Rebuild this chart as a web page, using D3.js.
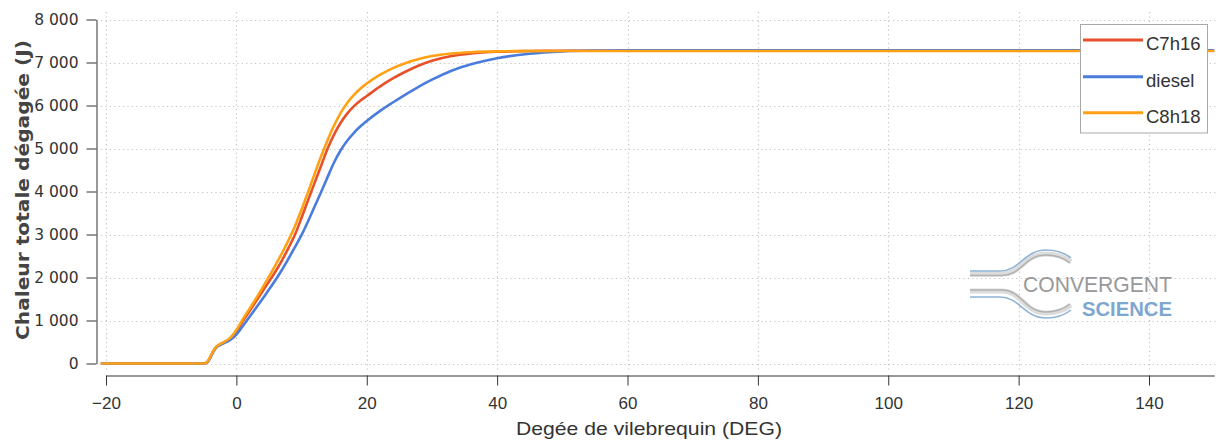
<!DOCTYPE html>
<html><head><meta charset="utf-8">
<script src="https://cdn.jsdelivr.net/npm/d3@7/dist/d3.min.js"></script>
<style>html,body{margin:0;padding:0;background:#fff;}svg{display:block;}</style>
</head><body>
<svg id="c" width="1216" height="441"></svg>
<script>
// ---- data ----
const crankAngle = [-20.8,-5,-4.5,-4,-3.5,-3,-2.5,-2,-1,0,1,2,3,4,5,6,7,8,9,10,11,12,13,14,15,16,17,18,19,20,22,24,26,28,30,33,36,40,45,50,55,60,80,100,120,150];
const c7h16  = [0,0,30,150,300,395,445,480,570,740,985,1215,1445,1675,1905,2140,2400,2690,3000,3390,3800,4200,4600,5000,5330,5600,5810,5980,6110,6220,6440,6630,6790,6930,7040,7150,7210,7250,7266,7273,7275,7275,7275,7275,7275,7275];
const diesel = [0,0,20,130,280,380,430,465,540,670,870,1080,1290,1500,1720,1940,2180,2440,2710,2990,3310,3650,3990,4340,4680,4960,5180,5360,5510,5640,5870,6070,6260,6440,6600,6810,6960,7100,7205,7258,7278,7283,7285,7285,7285,7285];
const c8h18  = [0,0,30,150,300,400,450,490,590,780,1030,1270,1510,1760,2020,2290,2570,2870,3200,3580,3990,4410,4820,5200,5540,5830,6060,6240,6390,6510,6710,6870,6990,7080,7150,7210,7240,7258,7264,7266,7266,7266,7266,7266,7266,7266];
const seriesNames = ["C7h16","diesel","C8h18"];
const seriesColors = ["#e6512b","#4a7ddb","#ffa114"];
const xMajorTicks = [-20,0,20,40,60,80,100,120,140];
const yMajorTicks = [0,1000,2000,3000,4000,5000,6000,7000,8000];
const xTitle = "Degée de vilebrequin (DEG)";
const yTitle = "Chaleur totale dégagée (J)";

const svg = d3.select("#c");
const x = d3.scaleLinear().domain([-20,150]).range([106,1214.2]);
const y = d3.scaleLinear().domain([0,8000]).range([363.5,19.5]);
const fmtY = v => d3.format(",")(v).replace(/,/g," ");

// grid
const grid = svg.append("g").attr("stroke","#c4c4c4").attr("stroke-width",1.2).attr("stroke-dasharray","1.2,3.2");
grid.selectAll(".hg").data(yMajorTicks).join("line")
  .attr("x1",101).attr("x2",1216).attr("y1",d=>Math.round(y(d))+0.5).attr("y2",d=>Math.round(y(d))+0.5);
grid.selectAll(".vg").data(xMajorTicks).join("line")
  .attr("y1",12).attr("y2",371).attr("x1",d=>Math.round(x(d))+0.5).attr("x2",d=>Math.round(x(d))+0.5);

// logo watermark
const logo = svg.append("g").attr("fill","none");
logo.append("path").attr("d","M970,274 L1002,274 C1022,274 1024,254 1046,254 C1058,254 1066,258 1071,262").attr("stroke","#dcdcdc").attr("stroke-width",5);
logo.append("path").attr("d","M970,271 L1000,271 C1020,271 1024,250 1046,250 C1058,250 1066,254 1071,258").attr("stroke","#8fb3d6").attr("stroke-width",1.6);
logo.append("path").attr("d","M970,275.5 L1002,275.5 C1022,275.5 1024,255 1046,255 C1058,255 1065,259 1070,263").attr("stroke","#b0b0b0").attr("stroke-width",1.4);
logo.append("path").attr("d","M970,291 L1002,291 C1022,291 1024,313 1046,313 C1058,313 1066,309 1071,305").attr("stroke","#dcdcdc").attr("stroke-width",5);
logo.append("path").attr("d","M970,290 L1002,290 C1022,290 1024,312 1046,312 C1058,312 1065,308 1070,304").attr("stroke","#b0b0b0").attr("stroke-width",1.4);
logo.append("path").attr("d","M970,297 L1000,297 C1020,297 1024,318 1046,318 C1058,318 1066,314 1071,310").attr("stroke","#8fb3d6").attr("stroke-width",1.6);
svg.append("text").attr("x",1172).attr("y",292).attr("text-anchor","end")
  .attr("font-family","Liberation Sans, Arial, sans-serif").attr("font-size",22.5).attr("fill","#999")
  .attr("textLength",149).attr("lengthAdjust","spacingAndGlyphs").text("CONVERGENT");
svg.append("text").attr("x",1172).attr("y",316).attr("text-anchor","end")
  .attr("font-family","Liberation Sans, Arial, sans-serif").attr("font-size",19.5).attr("font-weight","bold").attr("fill","#7ea7cf")
  .attr("textLength",90).attr("lengthAdjust","spacingAndGlyphs").text("SCIENCE");

// lines
const series = [c7h16, diesel, c8h18];
const line = d3.line().x((d,i)=>x(crankAngle[i])).y(d=>y(d)).curve(d3.curveMonotoneX);
series.forEach((s,k)=>{
  svg.append("path").datum(s).attr("d",line).attr("fill","none")
    .attr("stroke",seriesColors[k]).attr("stroke-width",2.6).attr("stroke-linejoin","round");
});

// y axis
const yAx = svg.append("g").attr("transform","translate(96.5,0)");
yAx.call(d3.axisLeft(y).tickValues(d3.range(0,8001,200)).tickSize(5).tickSizeOuter(0).tickFormat(""));
yAx.call(d3.axisLeft(y).tickValues(yMajorTicks).tickSize(10).tickSizeOuter(0).tickPadding(8).tickFormat(fmtY));
yAx.selectAll("path,line").attr("stroke","#333");
yAx.selectAll("text").attr("font-family","DejaVu Sans, Verdana, sans-serif").attr("font-size",15.5).attr("fill","#333");

// x axis
const xAx = svg.append("g").attr("transform","translate(0,375.5)");
xAx.call(d3.axisBottom(x).tickValues(d3.range(-20,151,5)).tickSize(6).tickSizeOuter(0).tickFormat(""));
xAx.call(d3.axisBottom(x).tickValues(xMajorTicks).tickSize(10).tickSizeOuter(0).tickPadding(11).tickFormat(d3.format("d")));
xAx.selectAll("path,line").attr("stroke","#333");
xAx.selectAll("text").attr("font-family","Liberation Sans, Arial, sans-serif").attr("font-size",17).attr("fill","#333");

// titles
svg.append("text").attr("x",516).attr("y",435).attr("font-family","Liberation Sans, Arial, sans-serif")
  .attr("font-size",19).attr("fill","#333").attr("textLength",266).attr("lengthAdjust","spacingAndGlyphs").text(xTitle);
svg.append("text").attr("transform","translate(29,190) rotate(-90)").attr("text-anchor","middle")
  .attr("font-family","DejaVu Sans, Verdana, sans-serif").attr("font-weight","bold")
  .attr("font-size",17).attr("fill","#444").attr("textLength",300).attr("lengthAdjust","spacingAndGlyphs").text(yTitle);

// legend
const lg = svg.append("g");
lg.append("rect").attr("x",1080.5).attr("y",24.5).attr("width",127).attr("height",108.5)
  .attr("fill","#fff").attr("stroke","#a8a8a8");
const legY = [40,76.7,112.7];
seriesNames.forEach((n,k)=>{
  lg.append("line").attr("x1",1083).attr("x2",1143).attr("y1",legY[k]).attr("y2",legY[k])
    .attr("stroke",seriesColors[k]).attr("stroke-width",3);
  lg.append("text").attr("x",1146).attr("y",legY[k]+10).attr("font-family","Liberation Sans, Arial, sans-serif")
    .attr("font-size",18.5).attr("fill","#333").text(n);
});
</script>
</body></html>
